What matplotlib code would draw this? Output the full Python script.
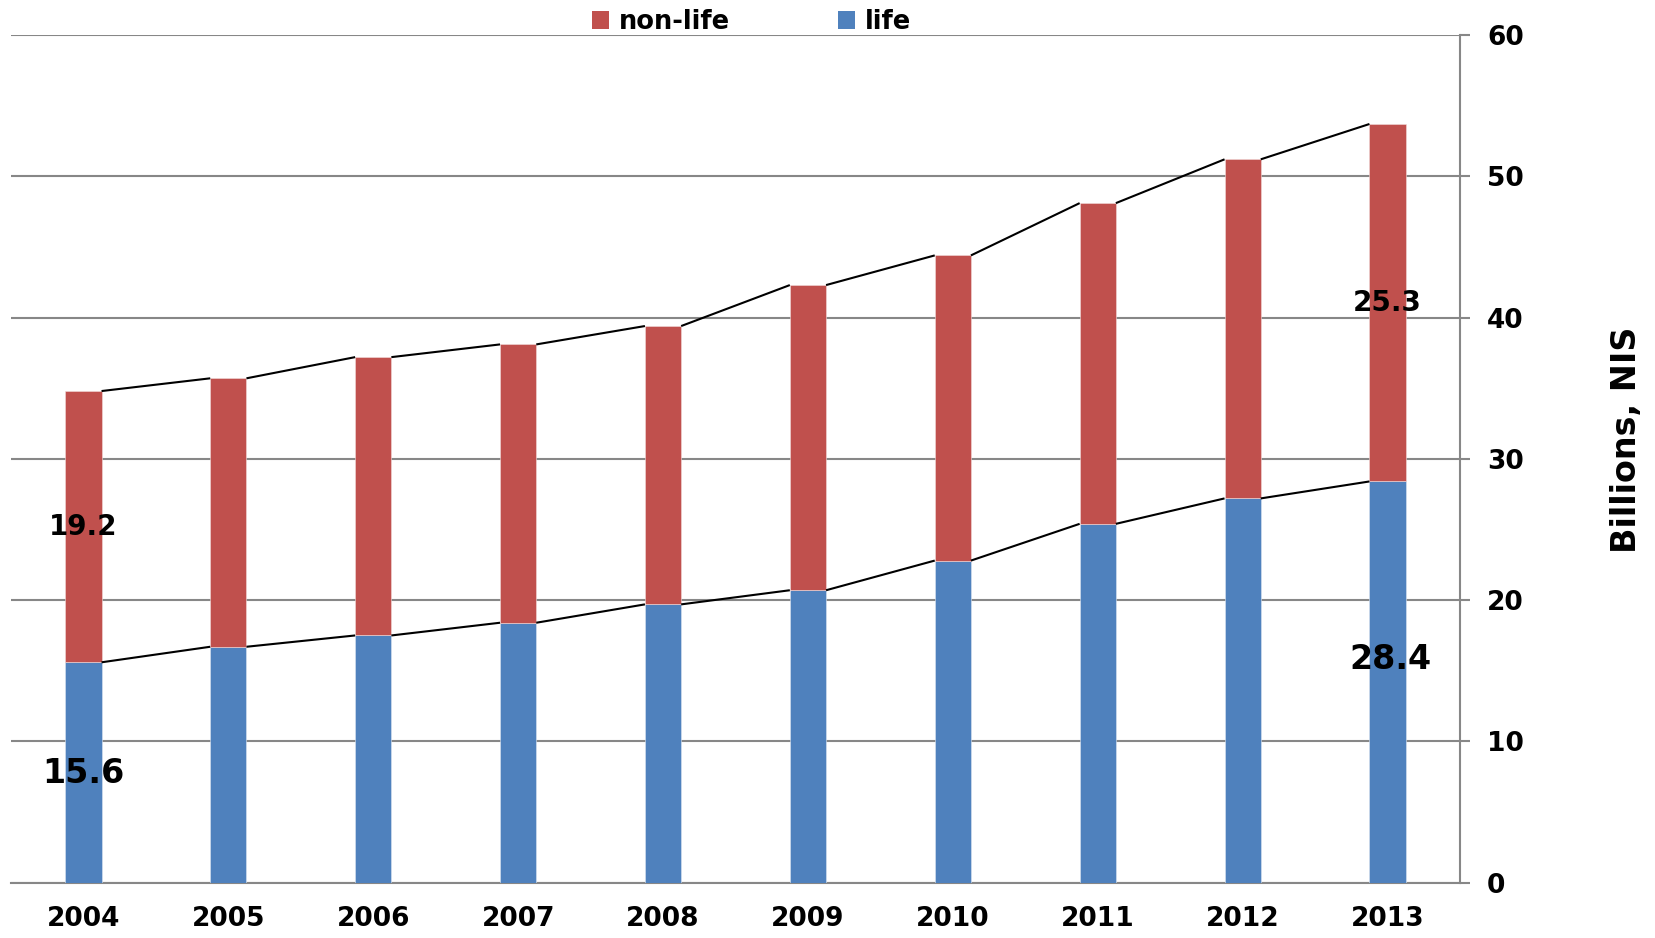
import matplotlib
matplotlib.use("Agg")
import matplotlib.pyplot as plt
import numpy as np
from matplotlib.patches import Patch

years = ["2004", "2005", "2006", "2007", "2008", "2009", "2010", "2011", "2012", "2013"]
life = [15.6, 16.7, 17.5, 18.4, 19.7, 20.7, 22.8, 25.4, 27.2, 28.4]
non_life = [19.2, 19.0, 19.7, 19.7, 19.7, 21.6, 21.6, 22.7, 24.0, 25.3]
yticks = [0, 10, 20, 30, 40, 50, 60]

RED = "#C0504D"
BLUE = "#4F81BD"
GRID = "#878787"

plt.rcParams['font.family'] = ['DejaVu Sans']
plt.rcParams['font.weight'] = 'bold'

fig = plt.figure(figsize=(16.56, 9.38), dpi=100)
ax = fig.add_axes([11/1656, 1-882.7/938, (1460-11)/1656, (882.7-35)/938])

x = np.arange(len(years))
w = 0.25
life_a = np.array(life)
tot = life_a + np.array(non_life)
ax.bar(x, life, w, color=BLUE, edgecolor="#DCE6F2", linewidth=0.4, zorder=3)
ax.bar(x, non_life, w, bottom=life, color=RED, edgecolor="#F2DCDB", linewidth=0.4, zorder=3)

# series lines: right edge of bar i to left edge of bar i+1
for top in (life_a, tot):
    for i in range(len(x) - 1):
        ax.plot([x[i] + w/2, x[i+1] - w/2], [top[i], top[i+1]], color="black", lw=1.5, zorder=4, solid_capstyle="butt")

ax.set_xlim(-0.5, len(years) - 0.5)
ax.set_ylim(0, 60)
ax.yaxis.tick_right()
ax.set_yticks(yticks)
ax.set_yticklabels([str(t) for t in yticks], fontsize=19, fontweight='bold')
ax.tick_params(axis='y', direction='out', length=7.5, width=1.5, color=GRID, pad=12)
ax.set_xticks(x)
ax.set_xticklabels(years, fontsize=19, fontweight='bold')
ax.tick_params(axis='x', length=0, pad=17)
ax.yaxis.grid(True, color=GRID, lw=1.5, zorder=0)
ax.set_axisbelow(True)
for s in ("left", "top"):
    ax.spines[s].set_visible(False)
for s in ("right", "bottom"):
    ax.spines[s].set_color(GRID)
    ax.spines[s].set_linewidth(1.5)

ax.set_ylabel("Billions, NIS", fontsize=24, fontweight='bold', labelpad=62)
ax.yaxis.set_label_position("right")
ax.yaxis.label.set_rotation(90)
ax.yaxis.label.set_y(0.522)

# data labels
ax.text(x[0], 25.2, f"{non_life[0]}", ha='center', va='center', fontsize=20, fontweight='bold', zorder=5)
ax.text(x[0], 7.7, f"{life[0]}", ha='center', va='center', fontsize=24, fontweight='bold', zorder=5)
ax.text(x[-1], 41.0, f"{non_life[-1]}", ha='center', va='center', fontsize=20, fontweight='bold', zorder=5)
ax.text(x[-1] + 0.02, 15.8, f"{life[-1]}", ha='center', va='center', fontsize=24, fontweight='bold', zorder=5)

handles = [Patch(facecolor=RED, label="non-life"), Patch(facecolor=BLUE, label="life")]
fig.legend(handles=handles, loc='center', bbox_to_anchor=(752/1656, 1-22/938), ncol=2,
           frameon=False, fontsize=18.5, handlelength=0.65, handleheight=0.65,
           handletextpad=0.4, columnspacing=4.2, borderpad=0.1)

fig.savefig("out.png", dpi=100)
